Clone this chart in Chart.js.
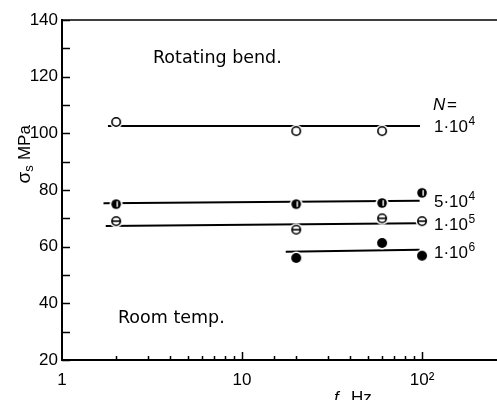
<!DOCTYPE html>
<html>
<head>
<meta charset="utf-8">
<script src="https://cdn.jsdelivr.net/npm/chart.js@4.4.0/dist/chart.umd.min.js"></script>
<style>
  html, body { margin: 0; padding: 0; background: #fff; }
  #wrap { width: 497px; height: 400px; }
</style>
</head>
<body>
<div id="wrap"><canvas id="chart" width="497" height="400"></canvas></div>
<script>
// measured fatigue strength sigma_s (MPa) at each test frequency f (Hz)
const freqs = [2, 20, 60, 100];
const sigmaN1e4 = [104, 100.8, 100.8, null];
const sigmaN5e4 = [75, 75, 75.4, 79];
const sigmaN1e5 = [69, 66, 70, 69];
const sigmaN1e6 = [null, 56, 61.3, 56.8];

// fitted lines, start and end point of each
const fitFreqN1e4 = [1.8, 97.5];
const fitSigmaN1e4 = [102.6, 102.6];
const fitFreqN5e4 = [1.7, 97];
const fitSigmaN5e4 = [75.3, 76.2];
const fitFreqN1e5 = [1.75, 96];
const fitSigmaN1e5 = [67.3, 68.3];
const fitFreqN1e6 = [17.5, 97];
const fitSigmaN1e6 = [58.2, 58.9];

const xTickLabels = { 1: '1', 10: '10', 100: '10²' };
const yTickLabels = [20, 40, 60, 80, 100, 120, 140];
// cycle counts N: mantissa and power of ten
const curveMantissa = ['1', '5', '1', '1'];
const curveExponent = ['4', '4', '5', '6'];

function points(xs, ys) {
  const out = [];
  xs.forEach((x, i) => { if (ys[i] != null) out.push({ x: x, y: ys[i] }); });
  return out;
}

// small canvas symbols for the four N series
function marker(kind) {
  const c = document.createElement('canvas');
  c.width = c.height = 16;
  const g = c.getContext('2d');
  const m = 8;
  g.fillStyle = '#fff';
  g.beginPath(); g.arc(m, m, 6.5, 0, Math.PI * 2); g.fill();
  g.strokeStyle = '#000';
  g.fillStyle = '#000';
  g.lineWidth = 1.6;
  if (kind === 'filled') {
    g.beginPath(); g.arc(m, m, 5, 0, Math.PI * 2); g.fill();
  } else if (kind === 'half') {
    g.beginPath(); g.arc(m, m, 4.8, 0, Math.PI * 2); g.fill();
    g.fillStyle = '#fff';
    g.fillRect(m + 0.4, m - 2.8, 1.4, 5.6);
  } else {
    g.beginPath(); g.arc(m, m, 4.2, 0, Math.PI * 2); g.stroke();
    if (kind === 'theta') {
      g.beginPath(); g.moveTo(m - 4.2, m); g.lineTo(m + 4.2, m); g.stroke();
    }
  }
  return c;
}

function markerSet(data, kind) {
  return { data: data, pointStyle: marker(kind), pointRadius: 8, showLine: false };
}
function fitLine(xs, ys) {
  return {
    data: points(xs, ys), showLine: true, borderColor: '#000', borderWidth: 2,
    pointRadius: 0, fill: false
  };
}

const TEXT = '"Liberation Sans", Arial, sans-serif';
const LABEL = '"DejaVu Sans", sans-serif';

// frame top line, inward tick marks and the figure's text
const extras = {
  id: 'extras',
  afterDraw(chart) {
    const { ctx, chartArea: a, scales: { x, y } } = chart;
    ctx.save();
    ctx.strokeStyle = '#000';
    ctx.lineWidth = 1.5;
    ctx.beginPath();
    ctx.moveTo(a.left, a.top); ctx.lineTo(chart.width, a.top);
    y.ticks.forEach(t => {
      const py = Math.round(y.getPixelForValue(t.value)) + 0.5;
      ctx.moveTo(a.left, py); ctx.lineTo(a.left + 8, py);
    });
    x.ticks.forEach(t => {
      if (t.value <= 1 || t.value > 100) return;
      const px = Math.round(x.getPixelForValue(t.value)) + 0.5;
      const len = (t.value === 10 || t.value === 100) ? 8 : 4;
      ctx.moveTo(px, a.bottom); ctx.lineTo(px, a.bottom - len);
    });
    ctx.stroke();

    ctx.fillStyle = '#000';
    ctx.textBaseline = 'alphabetic';
    ctx.textAlign = 'left';
    ctx.font = '17.5px ' + LABEL;
    ctx.fillText('Rotating bend.', 153, 63);
    ctx.fillText('Room temp.', 118, 323);

    ctx.font = 'italic 17px ' + TEXT;
    ctx.fillText('N', 433, 110);
    ctx.font = '17px ' + TEXT;
    ctx.fillText('=', 447, 110);

    // "m·10^e" labels to the right of each line
    const labelY = [132, 207, 230, 258];
    curveMantissa.forEach((mant, i) => {
      ctx.font = '17px ' + TEXT;
      const base = mant + '·10';
      ctx.fillText(base, 434, labelY[i]);
      const w = ctx.measureText(base).width;
      ctx.font = '12px ' + TEXT;
      ctx.fillText(curveExponent[i], 434 + w + 0.5, labelY[i] - 7);
    });

    // x axis title
    ctx.font = 'italic 17px ' + TEXT;
    ctx.fillText('f', 334, 403);
    ctx.font = '17px ' + TEXT;
    ctx.fillText('Hz', 351, 403);

    // y axis title, rotated
    ctx.translate(30, 152);
    ctx.rotate(-Math.PI / 2);
    ctx.textAlign = 'left';
    ctx.font = '19px ' + TEXT;
    const w0 = ctx.measureText('σ').width;
    const total = w0 + 7 + ctx.measureText(' MPa').width;
    let cx = -total / 2;
    ctx.fillText('σ', cx, 0);
    ctx.font = '13px ' + TEXT;
    ctx.fillText('s', cx + w0, 3);
    ctx.font = '17px ' + TEXT;
    ctx.fillText(' MPa', cx + w0 + 7, 0);
    ctx.restore();
  }
};

new Chart(document.getElementById('chart').getContext('2d'), {
  type: 'scatter',
  data: {
    datasets: [
      markerSet(points(freqs, sigmaN1e4), 'open'),
      markerSet(points(freqs, sigmaN5e4), 'half'),
      markerSet(points(freqs, sigmaN1e5), 'theta'),
      markerSet(points(freqs, sigmaN1e6), 'filled'),
      fitLine(fitFreqN1e4, fitSigmaN1e4),
      fitLine(fitFreqN5e4, fitSigmaN5e4),
      fitLine(fitFreqN1e5, fitSigmaN1e5),
      fitLine(fitFreqN1e6, fitSigmaN1e6)
    ]
  },
  options: {
    responsive: false,
    animation: false,
    layout: { autoPadding: false, padding: { top: 20, left: 0, right: 0, bottom: 0 } },
    plugins: { legend: { display: false }, tooltip: { enabled: false } },
    scales: {
      x: {
        type: 'logarithmic',
        min: 1,
        max: 261,
        grid: { display: false, drawTicks: false },
        border: { display: true, color: '#000', width: 2 },
        ticks: {
          autoSkip: false,
          maxRotation: 0,
          padding: 10,
          color: '#000',
          font: { family: TEXT, size: 17 },
          callback: v => xTickLabels[v] || ''
        },
        afterFit: s => { s.height = 40; s.paddingRight = 0; s.paddingLeft = 0; }
      },
      y: {
        min: 20,
        max: 140,
        grid: { display: false, drawTicks: false },
        border: { display: true, color: '#000', width: 2 },
        ticks: {
          stepSize: 10,
          padding: 4,
          color: '#000',
          font: { family: TEXT, size: 17 },
          callback: v => yTickLabels.includes(v) ? String(v) : ''
        },
        afterFit: s => { s.width = 62; }
      }
    }
  },
  plugins: [extras]
});
</script>
</body>
</html>
